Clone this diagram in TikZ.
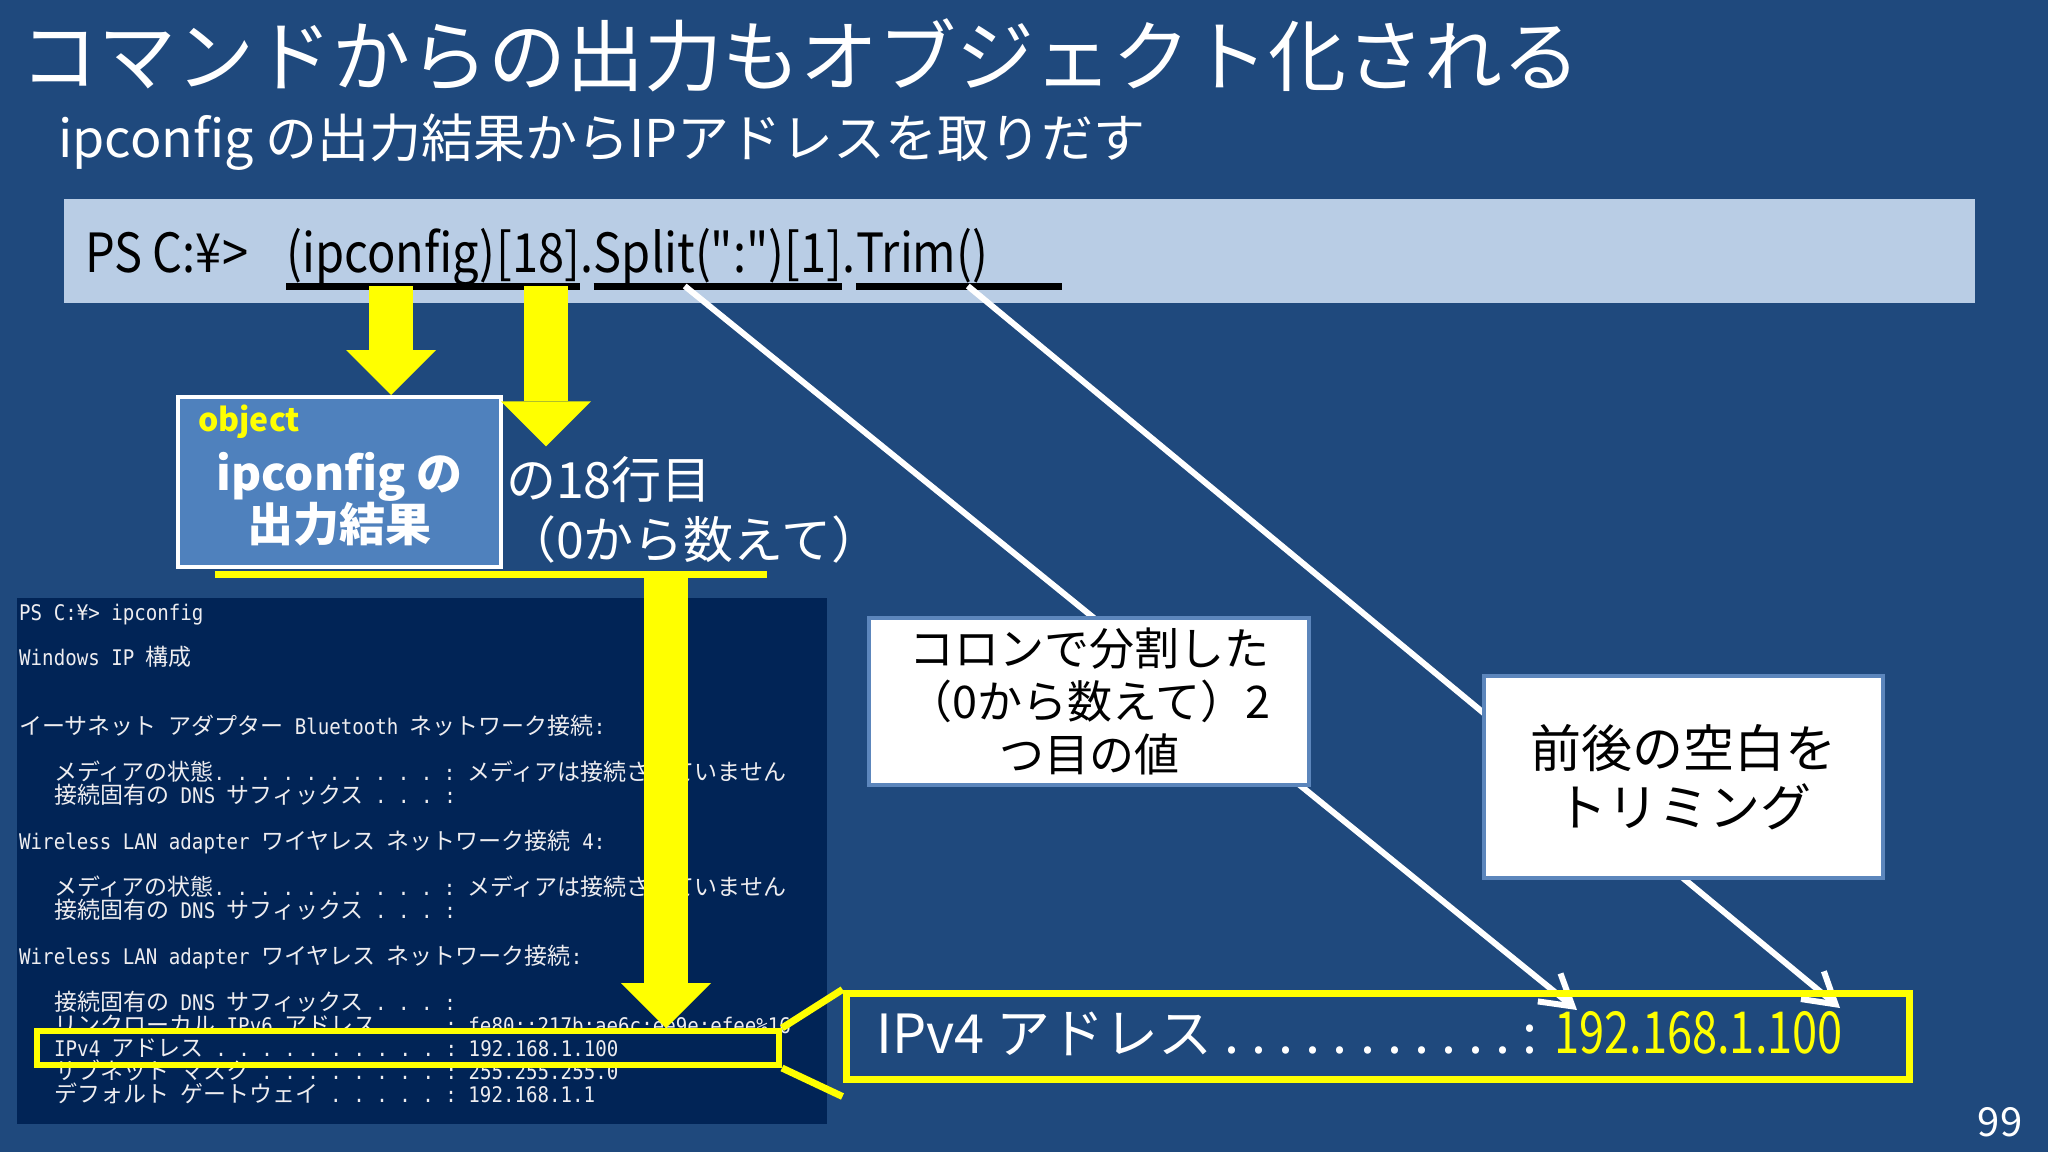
\documentclass[tikz,border=0pt]{standalone}
\usepackage{fontspec}
\setmainfont{Noto Sans CJK JP}
\newfontfamily\cmdfont[FakeStretch=0.87]{Noto Sans CJK JP}
\newfontfamily\termlat[FakeStretch=0.89]{DejaVu Sans Mono}
\newfontfamily\termjp{Noto Sans CJK JP}
\newfontfamily\narrowjp[FakeStretch=0.78]{Noto Sans CJK JP}
\usepackage{tikz}
\usetikzlibrary{arrows.meta, positioning, calc}
\definecolor{slidebg}{HTML}{1F497D}
\definecolor{cmdbg}{HTML}{B9CDE5}
\definecolor{objfill}{HTML}{4F81BD}
\definecolor{termbg}{HTML}{012456}
\definecolor{termfg}{HTML}{EEEDF0}
\definecolor{hilite}{HTML}{FFFF00}
\definecolor{noteedge}{HTML}{5C86BC}
\newcommand\fsz[2]{\fontsize{#1}{#2}\selectfont}
\newcommand\tj[1]{{\termjp\fontsize{23}{23}\selectfont #1}}
\frenchspacing

\begin{document}
\begin{tikzpicture}[
  x=1pt, y=-1pt,
  every node/.style={inner sep=0pt},
  cmdtxt/.style={anchor=base west, text=black, font=\cmdfont\fsz{54}{60}},
  uline/.style={draw=black, line width=7pt},
  termline/.style={anchor=base west, text=termfg, font=\termlat\fsz{21.5}{23}},
  note/.style={
    rectangle, fill=white, draw=noteedge, line width=4pt,
    text=black, align=center
  },
  hbox/.style={rectangle, draw=hilite},
  yarrow/.style={draw=hilite, line width=44pt, -{Triangle[length=45pt, width=90pt, line width=0pt]}},
  ybar/.style={draw=hilite, line width=7pt},
  warr/.style={draw=white, line width=6pt, -{Straight Barb[length=30pt, width=36pt]}}
]
\fill[slidebg] (0,0) rectangle (2048,1152);
\useasboundingbox (0,0) rectangle (2048,1152);

% headings
\node[anchor=west, text=white, font=\fsz{78}{80}] (title) at (20,55) {コマンドからの出力もオブジェクト化される};
\node[anchor=west, text=white, font=\fsz{52}{56}] (subtitle) at (58,142) {ipconfig の出力結果からIPアドレスを取りだす};

% command line
\node[fill=cmdbg, minimum width=1911pt, minimum height=104pt] (bar) at (1019.5,251) {};
\node[cmdtxt] (cmdps) at (85,272) {PS C:¥>\hspace{38pt}\mbox{}};
\node[cmdtxt] (cmdip) at (cmdps.base east) {(ipconfig)};
\node[cmdtxt] (cmd18) at (cmdip.base east) {[18]};
\node[cmdtxt] (cmdd1) at (cmd18.base east) {.};
\node[cmdtxt] (cmdsp) at (cmdd1.base east) {Split(":")[1]};
\node[cmdtxt] (cmdd2) at (cmdsp.base east) {.};
\node[cmdtxt] (cmdtr) at (cmdd2.base east) {Trim()};

\draw[uline] ([yshift=-14pt]cmdip.base west) -- ([yshift=-14pt]cmdip.base east);
\draw[uline] ([yshift=-14pt]cmd18.base west) -- ([yshift=-14pt]cmd18.base east);
\draw[uline] ([yshift=-14pt]cmdsp.base west) -- ([yshift=-14pt]cmdsp.base east);
\draw[uline] ([yshift=-14pt]cmdtr.base west) -- ([xshift=74pt,yshift=-14pt]cmdtr.base east);

\coordinate (ulip) at ([yshift=-14pt]cmdip.base);
\coordinate (ul18) at ([xshift=8pt,yshift=-14pt]cmd18.base);
\coordinate (ulsp) at ([xshift=91pt,yshift=-14pt]cmdsp.base west);
\coordinate (ultr) at ([xshift=112pt,yshift=-14pt]cmdtr.base west);

% console output
\node[fill=termbg, minimum width=810pt, minimum height=526pt] (term) at (422,861) {};
\node[termline] (tl1)  at (19,620)  {PS C:¥> ipconfig};
\node[termline] (tl2)  at (19,665)  {Windows IP \tj{構成}};
\node[termline] (tl3)  at (19,734)  {\tj{イーサネット} \tj{アダプター} Bluetooth \tj{ネットワーク接続}:};
\node[termline] (tl4)  at (54,780)  {\tj{メディアの状態}. . . . . . . . . . : \tj{メディアは接続されていません}};
\node[termline] (tl5)  at (54,803)  {\tj{接続固有の} DNS \tj{サフィックス} . . . :};
\node[termline] (tl6)  at (19,849)  {Wireless LAN adapter \tj{ワイヤレス} \tj{ネットワーク接続} 4:};
\node[termline] (tl7)  at (54,895)  {\tj{メディアの状態}. . . . . . . . . . : \tj{メディアは接続されていません}};
\node[termline] (tl8)  at (54,918)  {\tj{接続固有の} DNS \tj{サフィックス} . . . :};
\node[termline] (tl9)  at (19,964)  {Wireless LAN adapter \tj{ワイヤレス} \tj{ネットワーク接続}:};
\node[termline] (tl10) at (54,1010) {\tj{接続固有の} DNS \tj{サフィックス} . . . :};
\node[termline] (tl11) at (54,1033) {\tj{リンクローカル} IPv6 \tj{アドレス}. . . : fe80::217b:ae6c:ee9e:efee\%16};
\node[termline] (tl12) at (54,1056) {IPv4 \tj{アドレス} . . . . . . . . . . : 192.168.1.100};
\node[termline] (tl13) at (54,1079) {\tj{サブネット} \tj{マスク} . . . . . . . . : 255.255.255.0};
\node[termline] (tl14) at (54,1102) {\tj{デフォルト} \tj{ゲートウェイ} . . . . . : 192.168.1.1};

% white arrows run behind the notes
\coordinate (tipA) at (1577,1010);
\coordinate (tipB) at (1840,1008);
\draw[warr] (ulsp) -- (tipA);
\draw[warr] (ultr) -- (tipB);

\node[note, minimum width=440pt, minimum height=167pt, font=\fsz{45}{53}] (colonbox) at (1089,701.5)
  {コロンで分割した\\（0から数えて）2\\つ目の値};
\node[note, minimum width=399pt, minimum height=202pt, font=\fsz{51}{59}] (trimbox) at (1683.5,777)
  {前後の空白を\\トリミング};

% object box
\node[fill=objfill, draw=white, line width=4pt, minimum width=323pt, minimum height=170pt] (obj) at (339.5,482) {};
\node[anchor=base west, text=hilite, font=\bfseries\fsz{32}{36}] (objtag) at ([xshift=22pt,yshift=-36pt]obj.north west) {object};
\node[text=white, align=center, font=\bfseries\fsz{46}{50}] (objtxt) at ([yshift=-17pt]obj.center) {ipconfig の\\出力結果};
\node[anchor=west, inner sep=10pt, text=white, align=left, font=\fsz{50}{60}] (rowtxt) at (496,510)
  {の18行目\\（0から数えて）};

% yellow arrows
\coordinate (brL) at (215,574);
\coordinate (brR) at (767,574);
\coordinate (brM) at (666,574);
\draw[yarrow] (ulip) -- (ulip |- obj.north);
\draw[yarrow] (ul18) -- (ul18 |- rowtxt.north);
\draw[ybar] (brL) -- (brR);

\node[hbox, line width=6pt, minimum width=742pt, minimum height=34pt] (smbox) at (408,1048) {};
\draw[yarrow] (brM) -- (brM |- smbox.north);

\node[hbox, line width=7pt, minimum width=1063pt, minimum height=86pt] (bigbox) at (1377.5,1036) {};
\draw[ybar] (smbox.north east) -- (bigbox.north west);
\draw[ybar] (smbox.south east) -- ([yshift=-14pt]bigbox.south west);

\node[anchor=base west, text=white, font=\fsz{54}{60}] (iplbl) at (876,1053) {IPv4 アドレス . . . . . . . . . . . :};
\node[anchor=base west, text=hilite, font=\narrowjp\fsz{58}{60}] (ipnum) at ([xshift=16pt]iplbl.base east) {192.168.1.100};

\node[text=white, font=\fsz{40}{44}] (pgnum) at (2000,1122) {99};
\end{tikzpicture}
\end{document}
